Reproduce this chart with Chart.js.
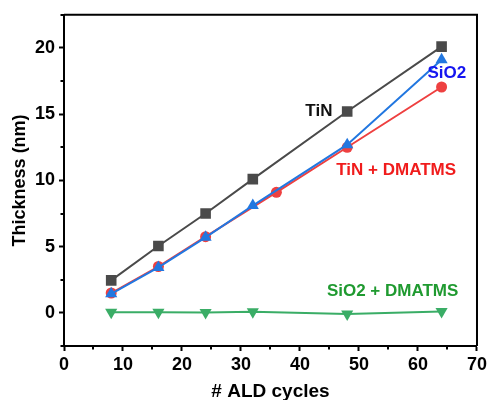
<!DOCTYPE html>
<html>
<head>
<meta charset="utf-8">
<script src="https://cdn.jsdelivr.net/npm/chart.js@4"></script>
<style>
  html, body { margin: 0; padding: 0; background: #fff; }
  #wrap { width: 490px; height: 400px; position: relative; }
</style>
</head>
<body>
<div id="wrap"><canvas id="c" width="490" height="400"></canvas></div>
<script>
// ---- data ----
const tinCycles = [8, 16, 24, 32, 48, 64];
const tinValues = [2.45, 5.05, 7.5, 10.1, 15.2, 20.1];

const tinDmatmsCycles = [8, 16, 24, 36, 48, 64];
const tinDmatmsValues = [1.5, 3.5, 5.75, 9.1, 12.5, 17.05];

const sio2Cycles = [8, 16, 24, 32, 48, 64];
const sio2Values = [1.44, 3.43, 5.7, 8.1, 12.7, 19.1];

const sio2DmatmsCycles = [8, 16, 24, 32, 48, 64];
const sio2DmatmsValues = [0.05, 0.05, 0.02, 0.08, -0.08, 0.1];

const xTickLabels = [0, 10, 20, 30, 40, 50, 60, 70];
const yTickLabels = [0, 5, 10, 15, 20];

// series annotation labels (text, anchor x, anchor y in data units)
const labelTexts = ['TiN', 'SiO2', 'TiN + DMATMS', 'SiO2 + DMATMS'];
const labelX = [43.2, 64.9, 56.3, 55.7];
const labelY = [15.25, 18.05, 10.75, 1.65];
const labelColors = ['#111111', '#1515f0', '#f01c1c', '#1f9a30'];

function pts(xs, ys) { return xs.map((x, i) => ({ x: x, y: ys[i] })); }

const FONT = "'Liberation Sans', Arial, sans-serif";

const framePlugin = {
  id: 'frame',
  afterDraw(chart) {
    const { ctx, chartArea: a, scales } = chart;
    ctx.save();
    ctx.strokeStyle = '#000';
    ctx.lineWidth = 2;
    ctx.beginPath();
    ctx.moveTo(a.left, a.top);
    ctx.lineTo(a.right, a.top);
    ctx.lineTo(a.right, a.bottom);
    ctx.stroke();
    // minor ticks (shorter than major ones)
    ctx.beginPath();
    scales.x.ticks.forEach(t => {
      if (!xTickLabels.includes(t.value)) {
        const px = Math.round(scales.x.getPixelForValue(t.value));
        ctx.moveTo(px, a.bottom);
        ctx.lineTo(px, a.bottom + 3.5);
      }
    });
    scales.y.ticks.forEach(t => {
      if (!yTickLabels.includes(t.value)) {
        const py = Math.round(scales.y.getPixelForValue(t.value));
        ctx.moveTo(a.left, py);
        ctx.lineTo(a.left - 3.5, py);
      }
    });
    ctx.stroke();
    ctx.restore();
  }
};

const labelPlugin = {
  id: 'seriesLabels',
  afterDatasetsDraw(chart) {
    const { ctx, scales } = chart;
    ctx.save();
    ctx.font = "bold 17px " + FONT;
    ctx.textAlign = 'center';
    ctx.textBaseline = 'middle';
    labelTexts.forEach((t, i) => {
      ctx.fillStyle = labelColors[i];
      ctx.fillText(t, scales.x.getPixelForValue(labelX[i]), scales.y.getPixelForValue(labelY[i]));
    });
    ctx.restore();
  }
};

const common = { borderWidth: 2, showLine: true, tension: 0 };

new Chart(document.getElementById('c'), {
  type: 'scatter',
  data: {
    datasets: [
      Object.assign({ label: 'TiN', data: pts(tinCycles, tinValues), order: 1,
        borderColor: '#4a4a4a', backgroundColor: '#4a4a4a',
        pointStyle: 'rect', pointRadius: 7.5, pointBorderWidth: 0 }, common),
      Object.assign({ label: 'TiN + DMATMS', data: pts(tinDmatmsCycles, tinDmatmsValues), order: 3,
        borderColor: '#ee4040', backgroundColor: '#ee4040',
        pointStyle: 'circle', pointRadius: 5.5, pointBorderWidth: 0 }, common),
      Object.assign({ label: 'SiO2', data: pts(sio2Cycles, sio2Values), order: 2,
        borderColor: '#2277e0', backgroundColor: '#2277e0',
        pointStyle: 'triangle', pointRadius: 7, pointBorderWidth: 0 }, common),
      Object.assign({ label: 'SiO2 + DMATMS', data: pts(sio2DmatmsCycles, sio2DmatmsValues), order: 4,
        borderColor: '#3aad66', backgroundColor: '#3aad66',
        pointStyle: 'triangle', pointRotation: 180, pointRadius: 7, pointBorderWidth: 0 }, common)
    ]
  },
  options: {
    responsive: false,
    animation: false,
    layout: { padding: { top: 12, right: 11, left: 0, bottom: 0 } },
    plugins: { legend: { display: false }, tooltip: { enabled: false } },
    scales: {
      x: {
        type: 'linear', min: 0, max: 70,
        afterFit(s) { s.height = 54; },
        border: { display: true, color: '#000', width: 2 },
        grid: { drawOnChartArea: false, drawTicks: true, tickLength: 5, tickWidth: 2,
          tickColor: c => (xTickLabels.includes(c.tick && c.tick.value) ? '#000' : 'rgba(0,0,0,0)') },
        ticks: {
          stepSize: 5, padding: 3, color: '#000',
          font: { family: FONT, size: 18, weight: 'bold' },
          maxRotation: 0, autoSkip: false,
          callback: v => (xTickLabels.includes(v) ? String(v) : '')
        },
        title: { display: true, text: '# ALD cycles', color: '#000',
          font: { family: FONT, size: 19, weight: 'bold' }, padding: { top: -3, bottom: -3 } }
      },
      y: {
        type: 'linear', min: -2.5, max: 22.5,
        afterFit(s) { s.width = 64; },
        border: { display: true, color: '#000', width: 2 },
        grid: { drawOnChartArea: false, drawTicks: true, tickLength: 5, tickWidth: 2,
          tickColor: c => (yTickLabels.includes(c.tick && c.tick.value) ? '#000' : 'rgba(0,0,0,0)') },
        ticks: {
          stepSize: 2.5, padding: 4, color: '#000',
          font: { family: FONT, size: 18, weight: 'bold' },
          autoSkip: false,
          callback: v => (yTickLabels.includes(v) ? String(v) : '')
        },
        title: { display: true, text: 'Thickness (nm)', color: '#000',
          font: { family: FONT, size: 18, weight: 'bold' }, padding: { top: 9, bottom: 0 } }
      }
    }
  },
  plugins: [framePlugin, labelPlugin]
});
</script>
</body>
</html>
